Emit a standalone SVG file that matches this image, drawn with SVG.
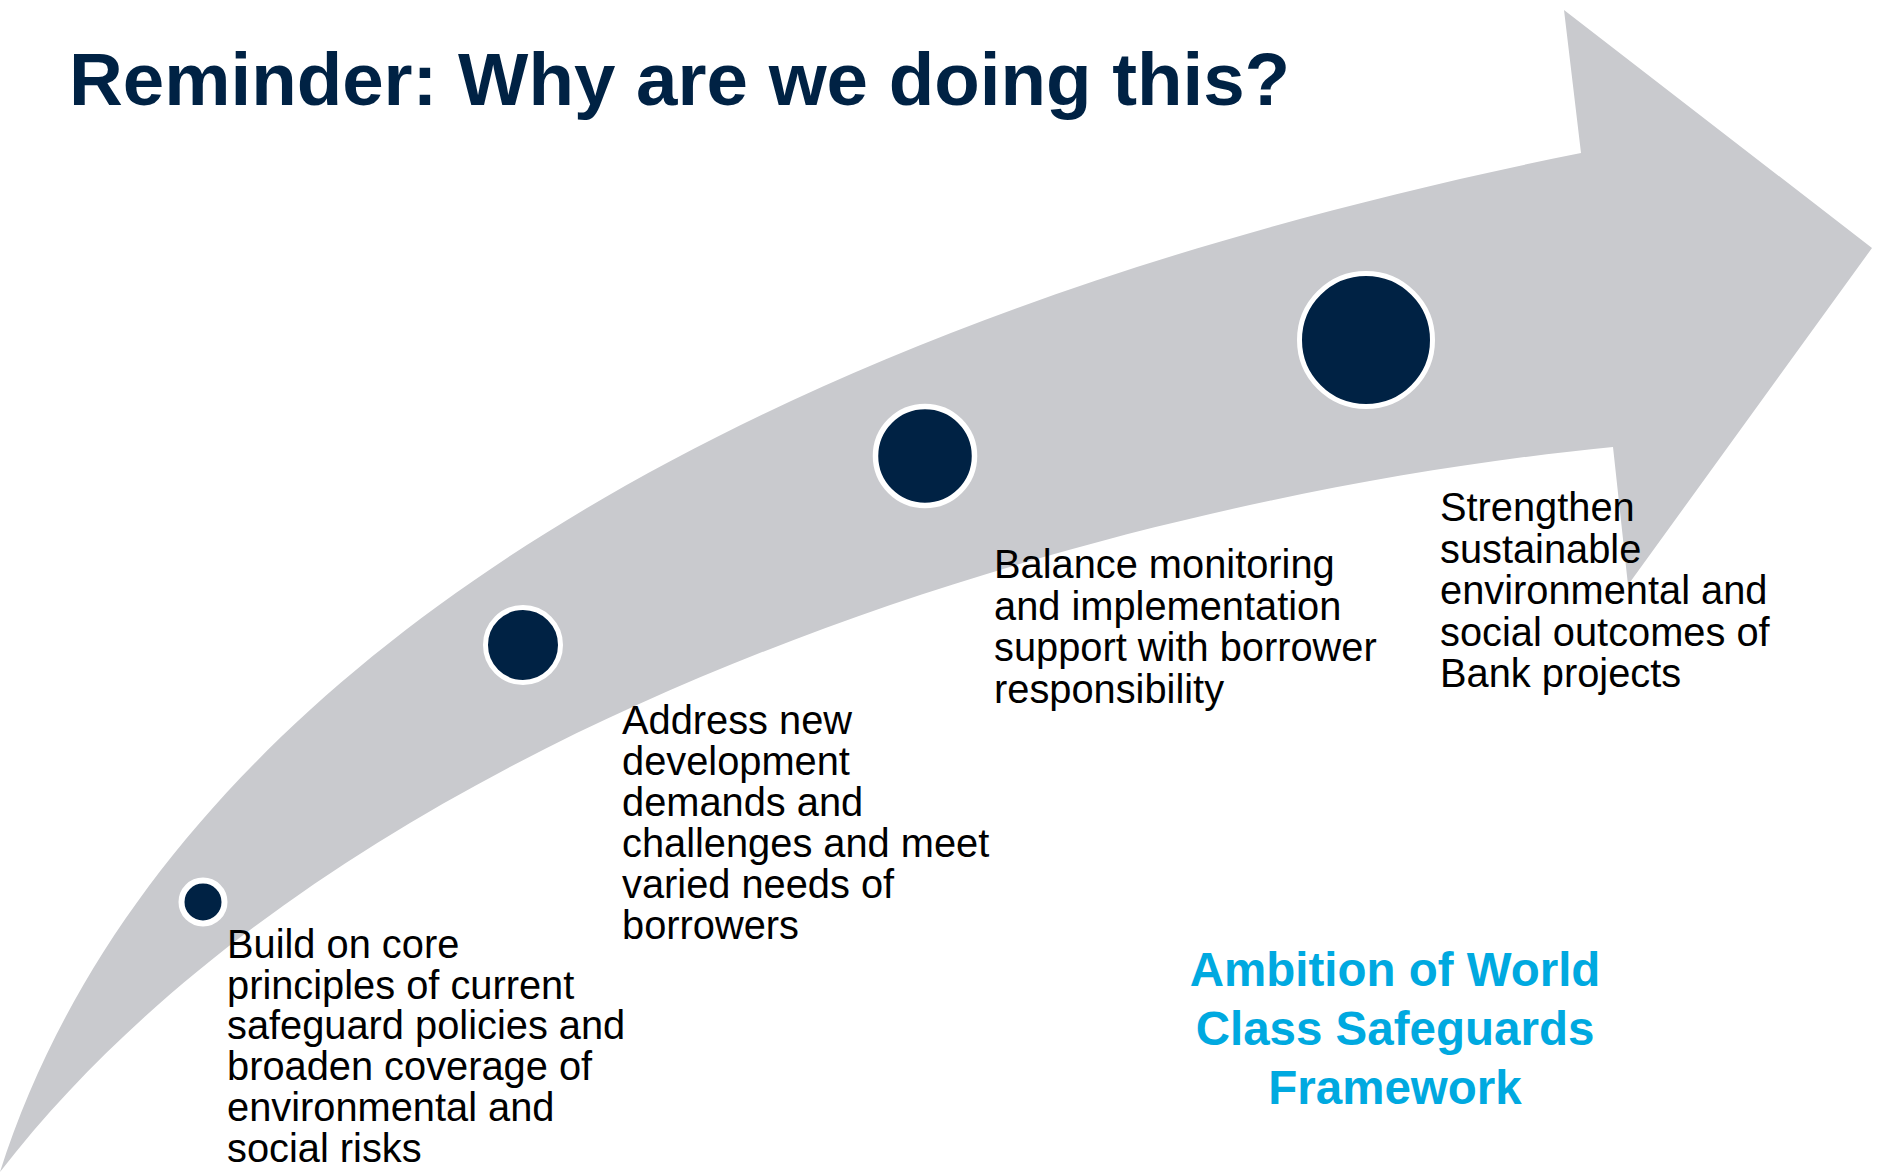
<svg xmlns="http://www.w3.org/2000/svg" width="1878" height="1175" viewBox="0 0 1878 1175">
<style>
.body{font-family:"Liberation Sans",Arial,sans-serif;font-size:39.8px;fill:#000}
.title{font-family:"Liberation Sans",Arial,sans-serif;font-size:74.5px;font-weight:bold;fill:#002244}
.amb{font-family:"Liberation Sans",Arial,sans-serif;font-size:47.5px;font-weight:bold;fill:#00A9E0}
.dot{fill:#002244;stroke:#fff}
</style>
<rect width="1878" height="1175" fill="#fff"/>
<g id="connectors">
<path id="arrow" d="M0,1172 C150,700 700,330 1581,153 L1564,10 L1872,248 L1628,585 L1613,447 C1100,497 350,720 0,1172 Z" fill="#C9CACE"/>
</g>
<text class="title" x="69" y="105">Reminder: Why are we doing this?</text>
<g id="node1">
<circle class="dot" cx="203" cy="902" r="21.5" stroke-width="6"/>
<text class="body"><tspan x="227" y="958">Build on core</tspan><tspan x="227" y="998.7">principles of current</tspan><tspan x="227" y="1039.4">safeguard policies and</tspan><tspan x="227" y="1080">broaden coverage of</tspan><tspan x="227" y="1120.8">environmental and</tspan><tspan x="227" y="1161.5">social risks</tspan></text>
</g>
<g id="node2">
<circle class="dot" cx="523" cy="645" r="37.5" stroke-width="5"/>
<text class="body"><tspan x="622" y="734">Address new</tspan><tspan x="622" y="775">development</tspan><tspan x="622" y="816">demands and</tspan><tspan x="622" y="857">challenges and meet</tspan><tspan x="622" y="898">varied needs of</tspan><tspan x="622" y="939">borrowers</tspan></text>
</g>
<g id="node3">
<circle class="dot" cx="925" cy="456" r="49.5" stroke-width="5.5"/>
<text class="body"><tspan x="994" y="578">Balance monitoring</tspan><tspan x="994" y="619.5">and implementation</tspan><tspan x="994" y="661">support with borrower</tspan><tspan x="994" y="702.5">responsibility</tspan></text>
</g>
<g id="node4">
<circle class="dot" cx="1366" cy="340" r="66.5" stroke-width="5"/>
<text class="body"><tspan x="1440" y="521">Strengthen</tspan><tspan x="1440" y="562.5">sustainable</tspan><tspan x="1440" y="604">environmental and</tspan><tspan x="1440" y="645.5">social outcomes of</tspan><tspan x="1440" y="687">Bank projects</tspan></text>
</g>
<g id="ambition">
<text class="amb" text-anchor="middle"><tspan x="1395" y="986">Ambition of World</tspan><tspan x="1395" y="1045">Class Safeguards</tspan><tspan x="1395" y="1104">Framework</tspan></text>
</g>
</svg>
